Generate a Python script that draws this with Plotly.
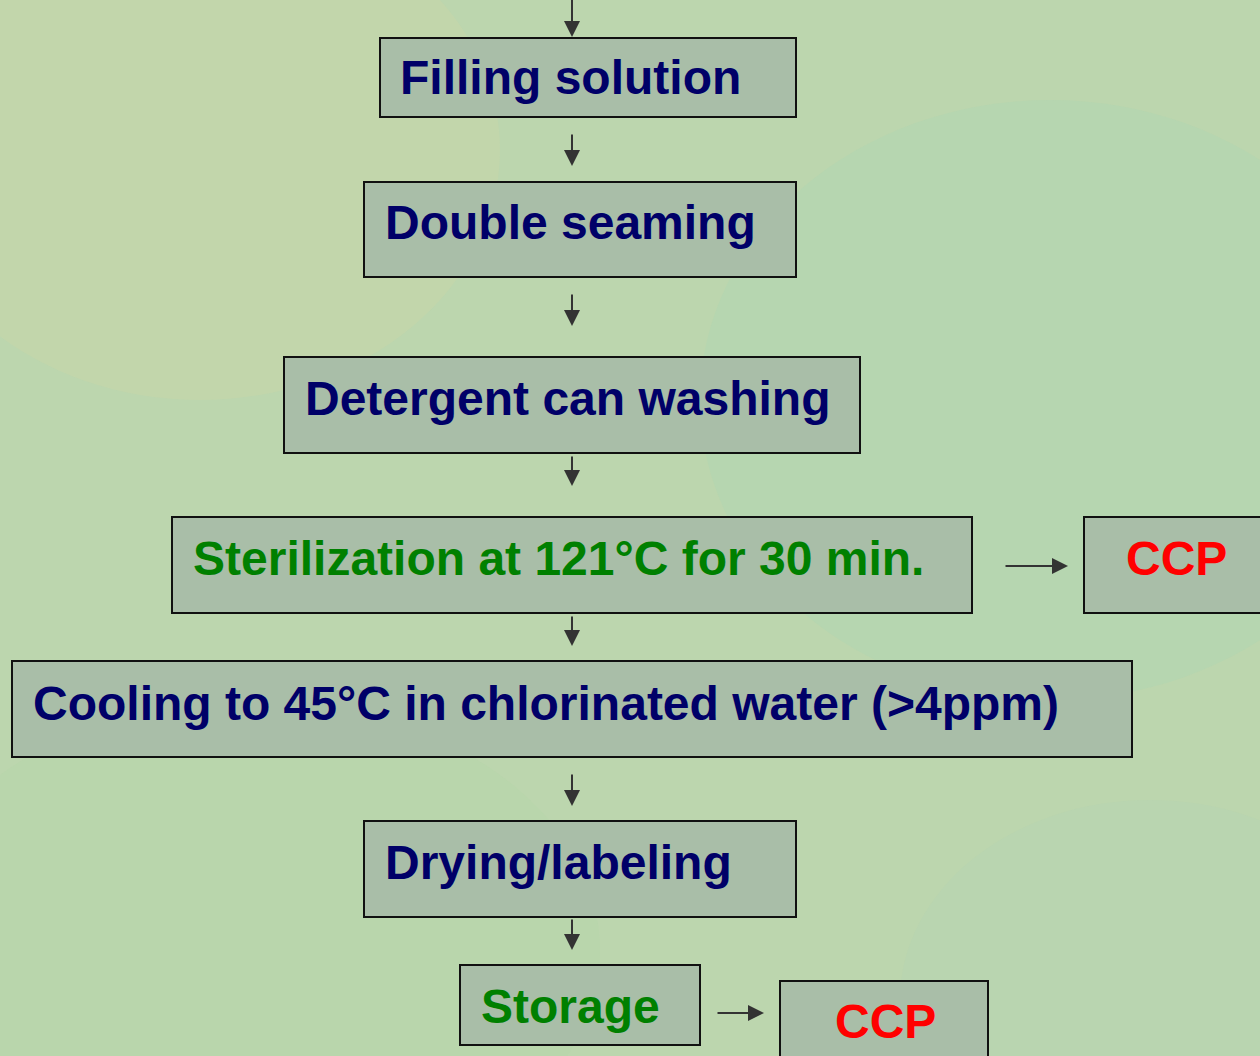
import plotly.graph_objects as go

# ---- data ----
step_labels = [
    "Filling solution",
    "Double seaming",
    "Detergent can washing",
    "Sterilization at 121°C for 30 min.",
    "CCP",
    "Cooling to 45°C in chlorinated water (>4ppm)",
    "Drying/labeling",
    "Storage",
    "CCP",
]
step_kind = ["step", "step", "step", "critical", "ccp", "step", "step", "critical", "ccp"]

# ---- layout geometry (pixel space) ----
boxes = [  # x0, y0, x1, y1
    (380, 38, 796, 117),
    (364, 182, 796, 277),
    (284, 357, 860, 453),
    (172, 517, 972, 613),
    (1084, 517, 1275, 613),
    (12, 661, 1132, 757),
    (364, 821, 796, 917),
    (460, 965, 700, 1045),
    (780, 981, 988, 1070),
]
text_pos = [  # x, y, anchor
    (398, 77, "left"),
    (383, 222, "left"),
    (303, 398, "left"),
    (191, 558, "left"),
    (1176, 558, "center"),
    (31, 703, "left"),
    (383, 862, "left"),
    (479, 1006, "left"),
    (885, 1021, "center"),
]
arrows = [  # x_tail, y_tail, x_head, y_head
    (572, -5, 572, 37),
    (572, 133, 572, 166),
    (572, 293, 572, 326),
    (572, 455, 572, 486),
    (572, 615, 572, 646),
    (572, 773, 572, 806),
    (572, 918, 572, 950),
    (1004, 566, 1068, 566),
    (716, 1013, 764, 1013),
]
colors = {"step": "#000068", "critical": "#008000", "ccp": "#ff0000"}

fig = go.Figure()
fig.add_trace(go.Scatter(x=[0, 1260], y=[0, 1056], mode="markers",
                         marker=dict(opacity=0), hoverinfo="skip", showlegend=False))

# subtle background variation
blobs = [
    (-100, -100, 500, 400, "rgba(220,215,160,0.18)"),
    (700, 100, 1400, 700, "rgba(150,215,190,0.15)"),
    (-100, 700, 600, 1200, "rgba(170,215,160,0.15)"),
    (900, 800, 1400, 1200, "rgba(170,210,190,0.15)"),
]
for x0, y0, x1, y1, c in blobs:
    fig.add_shape(type="circle", x0=x0, y0=y0, x1=x1, y1=y1, fillcolor=c,
                  line=dict(width=0), layer="below")

for (x0, y0, x1, y1) in boxes:
    fig.add_shape(type="rect", x0=x0, y0=y0, x1=x1, y1=y1,
                  fillcolor="#a9bea8", line=dict(color="#111111", width=2))

for label, kind, (x, y, anc) in zip(step_labels, step_kind, text_pos):
    fig.add_annotation(x=x, y=y, text="<b>" + label + "</b>", showarrow=False,
                       xanchor=anc, yanchor="middle",
                       font=dict(family="Liberation Sans, Arial", size=48,
                                 color=colors[kind]))

for (xt, yt, xh, yh) in arrows:
    fig.add_annotation(x=xh, y=yh, ax=xt, ay=yt, xref="x", yref="y",
                       axref="x", ayref="y", text="", showarrow=True,
                       arrowhead=2, arrowsize=1.6, arrowwidth=2,
                       arrowcolor="#333333")

fig.update_xaxes(range=[0, 1260], visible=False, fixedrange=True)
fig.update_yaxes(range=[1056, 0], visible=False, fixedrange=True)
fig.update_layout(width=1260, height=1056, margin=dict(l=0, r=0, t=0, b=0),
                  paper_bgcolor="#bcd6ae", plot_bgcolor="rgba(0,0,0,0)")

fig.write_html("out.html", config={"displayModeBar": False},
               post_script="document.body.style.margin='0';document.body.style.overflow='hidden';")
